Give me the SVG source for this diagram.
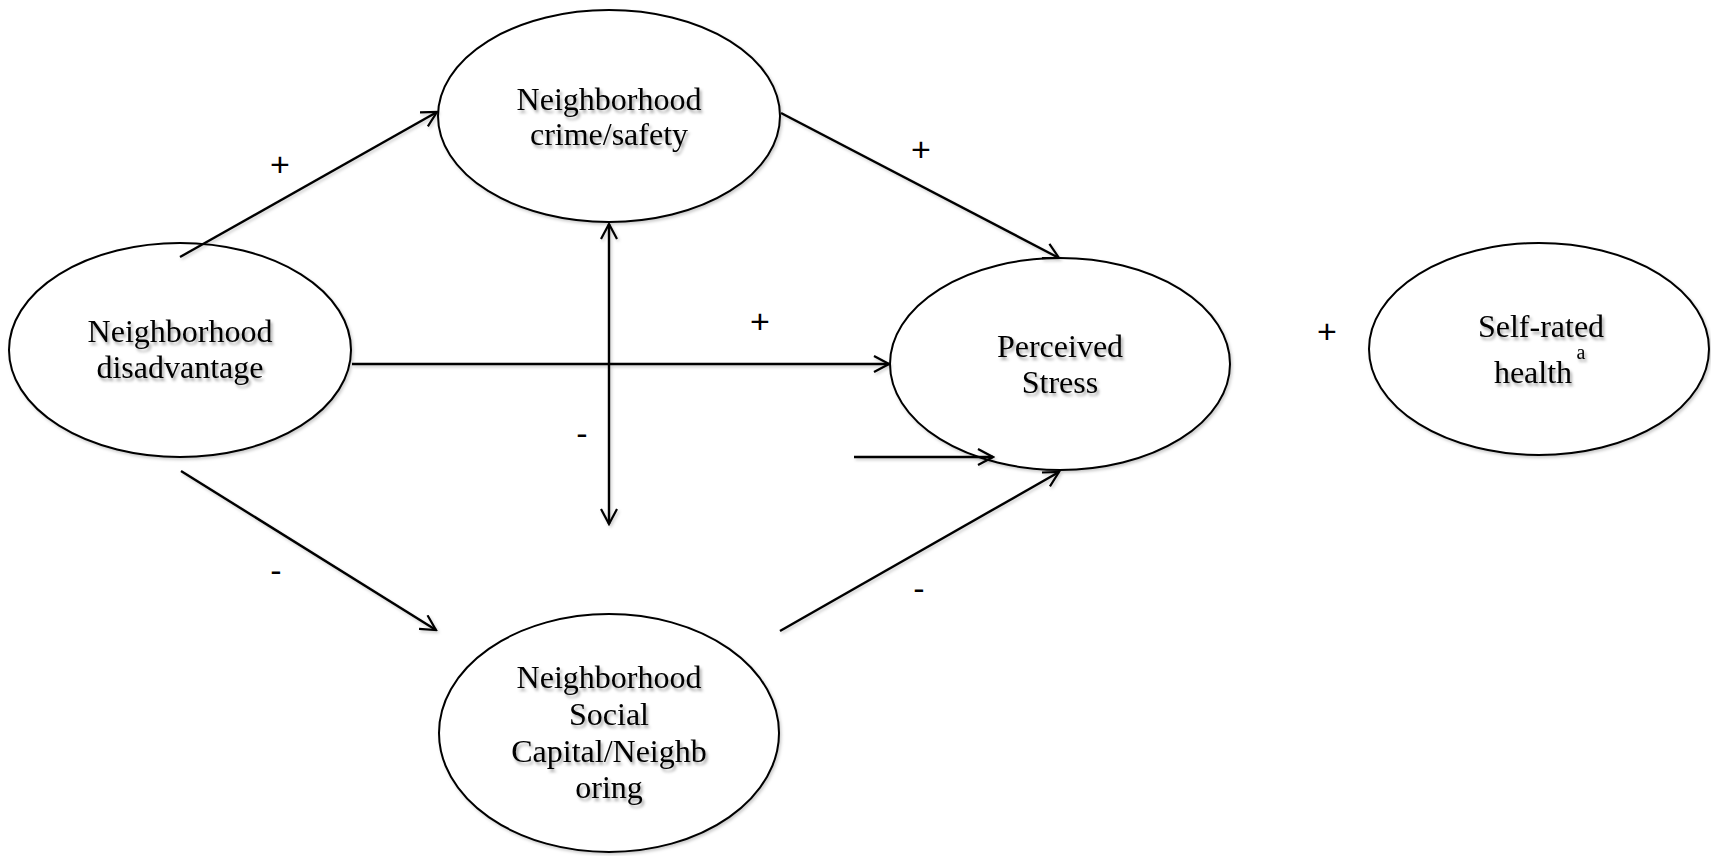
<svg xmlns="http://www.w3.org/2000/svg" width="1711" height="856" viewBox="0 0 1711 856">
  <style>
    .node { fill: #ffffff; stroke: #000000; stroke-width: 2; }
    .label { font-family: "Liberation Serif", "Times New Roman", serif; font-size: 32px; fill: #000000; text-anchor: middle; }
    .sup { font-family: "Liberation Serif", "Times New Roman", serif; font-size: 20px; fill: #000000; text-anchor: middle; }
    .sign { font-family: "Liberation Sans", Arial, sans-serif; font-size: 34px; fill: #000000; text-anchor: middle; }
    .edge { fill: none; stroke: #000000; stroke-width: 2.4; }
  </style>
  <defs>
    <filter id="soft" x="-20%" y="-20%" width="140%" height="160%">
      <feDropShadow dx="2" dy="3" stdDeviation="1.8" flood-color="#000000" flood-opacity="0.35"/>
    </filter>
    <filter id="faint" x="-10%" y="-10%" width="120%" height="120%">
      <feDropShadow dx="1.5" dy="2" stdDeviation="1.5" flood-color="#000000" flood-opacity="0.2"/>
    </filter>
    <marker id="head" viewBox="0 0 18 18" refX="16" refY="9" markerWidth="18" markerHeight="18" markerUnits="userSpaceOnUse" orient="auto-start-reverse">
      <path d="M1,1 L16,9 L1,17" fill="none" stroke="#000000" stroke-width="2.2"/>
    </marker>
  </defs>

  <rect x="0" y="0" width="1711" height="856" fill="#ffffff"/>

  <!-- nodes -->
  <g id="disadvantage" filter="url(#faint)">
    <ellipse class="node" cx="180" cy="350" rx="171" ry="107"/>
    <g filter="url(#soft)">
      <text class="label" x="180" y="342">Neighborhood</text>
      <text class="label" x="180" y="378">disadvantage</text>
    </g>
  </g>

  <g id="crime-safety" filter="url(#faint)">
    <ellipse class="node" cx="609" cy="116" rx="171" ry="106"/>
    <g filter="url(#soft)">
      <text class="label" x="609" y="110">Neighborhood</text>
      <text class="label" x="609" y="145">crime/safety</text>
    </g>
  </g>

  <g id="perceived-stress" filter="url(#faint)">
    <ellipse class="node" cx="1060" cy="364" rx="170" ry="106"/>
    <g filter="url(#soft)">
      <text class="label" x="1060" y="357">Perceived</text>
      <text class="label" x="1060" y="393">Stress</text>
    </g>
  </g>

  <g id="self-rated-health" filter="url(#faint)">
    <ellipse class="node" cx="1539" cy="349" rx="170" ry="106"/>
    <g filter="url(#soft)">
      <text class="label" x="1541" y="337">Self-rated</text>
      <text class="label" x="1533" y="383">health</text>
      <text class="sup" x="1581" y="359">a</text>
    </g>
  </g>

  <g id="social-capital" filter="url(#faint)">
    <ellipse class="node" cx="609" cy="733" rx="170" ry="119"/>
    <g filter="url(#soft)">
      <text class="label" x="609" y="688">Neighborhood</text>
      <text class="label" x="609" y="725">Social</text>
      <text class="label" x="609" y="762">Capital/Neighb</text>
      <text class="label" x="609" y="798">oring</text>
    </g>
  </g>

  <!-- connectors -->
  <g id="connectors" filter="url(#faint)">
    <line class="edge" x1="180" y1="257" x2="437" y2="112" marker-end="url(#head)"/>
    <line class="edge" x1="781" y1="113" x2="1059" y2="258" marker-end="url(#head)"/>
    <line class="edge" x1="352" y1="364" x2="889" y2="364" marker-end="url(#head)"/>
    <line class="edge" x1="609" y1="224" x2="609" y2="524" marker-start="url(#head)" marker-end="url(#head)"/>
    <line class="edge" x1="854" y1="457" x2="993" y2="457" marker-end="url(#head)"/>
    <line class="edge" x1="181" y1="471" x2="436" y2="630" marker-end="url(#head)"/>
    <line class="edge" x1="780" y1="631" x2="1059" y2="472" marker-end="url(#head)"/>
  </g>

  <!-- path signs -->
  <g id="signs">
    <text class="sign" x="280" y="176">+</text>
    <text class="sign" x="760" y="333">+</text>
    <text class="sign" x="921" y="161">+</text>
    <text class="sign" x="1327" y="343">+</text>
    <text class="sign" x="582" y="445">-</text>
    <text class="sign" x="276" y="582">-</text>
    <text class="sign" x="919" y="600">-</text>
  </g>
</svg>
